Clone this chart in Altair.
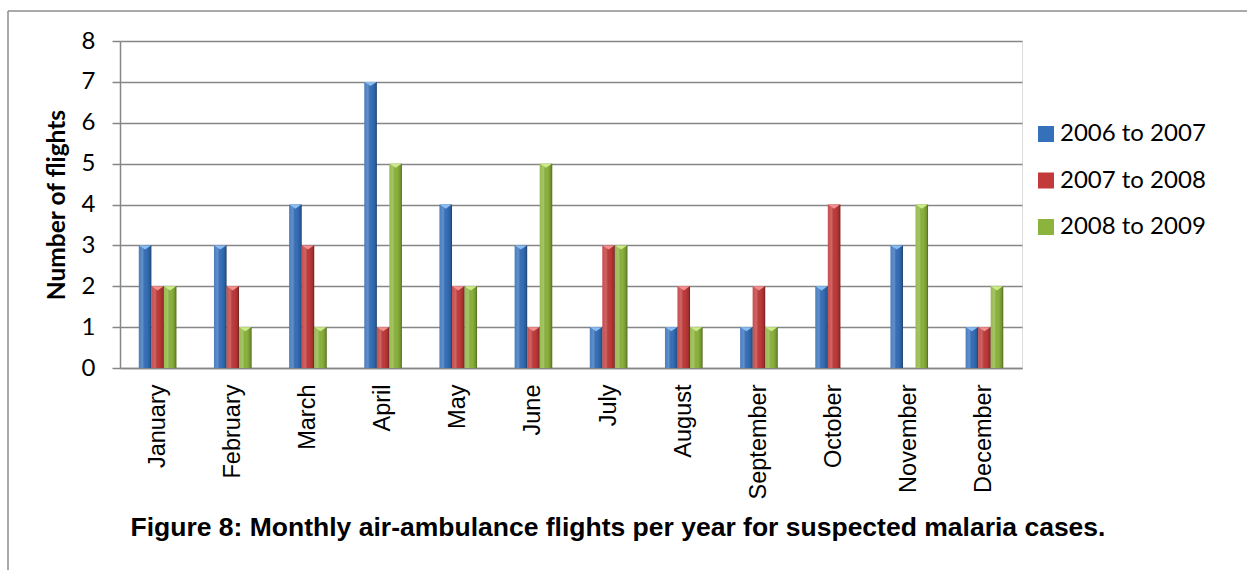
import altair as alt
import pandas as pd

months = ["January", "February", "March", "April", "May", "June", "July",
          "August", "September", "October", "November", "December"]
series = ["2006 to 2007", "2007 to 2008", "2008 to 2009"]
s1 = [3, 3, 4, 7, 4, 3, 1, 1, 1, 2, 3, 1]
s2 = [2, 2, 3, 1, 2, 1, 3, 2, 2, 4, 0, 1]
s3 = [2, 1, 1, 5, 2, 5, 3, 1, 1, 0, 4, 2]
colors = ["#3570ba", "#c23a3a", "#8cb43c"]
light = ["#8cbdf0", "#f09090", "#cde98a"]
caption = "Figure 8: Monthly air-ambulance flights per year for suspected malaria cases."

rows = []
for i, m in enumerate(months):
    for s, vals in zip(series, [s1, s2, s3]):
        rows.append({"month": m, "series": s, "value": vals[i]})
df = pd.DataFrame(rows)

GRID = "#868686"

x = alt.X("month:N", sort=months,
          scale=alt.Scale(paddingInner=0.5, paddingOuter=0.25),
          axis=alt.Axis(title=None, labelAngle=270, labelFont="Liberation Sans",
                        labelFontSize=23.5, labelColor="black", ticks=False,
                        domainColor=GRID, domainWidth=1.5, labelPadding=16,
                        grid=False, labelBaseline="middle", labelAlign="right"))
xo = alt.XOffset("series:N", sort=series,
                 scale=alt.Scale(paddingInner=0, paddingOuter=0))
y = alt.Y("value:Q", scale=alt.Scale(domain=[0, 8]),
          axis=alt.Axis(values=list(range(9)), title="Number of flights",
                        titleFont="Lato", titleFontSize=24.5, titleFontWeight="bold",
                        titleColor="black", titlePadding=12,
                        labelFont="Lato", labelFontSize=24, labelColor="black",
                        labelPadding=17, tickSize=8, tickColor=GRID, tickWidth=1.5,
                        domainColor=GRID, domainWidth=1.5,
                        gridColor=GRID, gridWidth=1.5))

base = alt.Chart(df)

bars = base.mark_bar().encode(
    x=x, xOffset=xo, y=y,
    color=alt.Color("series:N", sort=series,
                    scale=alt.Scale(domain=series, range=colors),
                    legend=alt.Legend(title=None, orient="none", legendX=914, legendY=81,
                                      symbolType="square", symbolSize=256,
                                      symbolStrokeWidth=0, labelFont="Lato",
                                      labelFontSize=24, labelColor="black",
                                      labelOffset=2, rowPadding=22.5, padding=0)),
)

shine = base.mark_bar(color=alt.Gradient(
    gradient="linear", x1=0, x2=1, y1=0, y2=0,
    stops=[alt.GradientStop(offset=0, color="rgba(255,255,255,0.10)"),
           alt.GradientStop(offset=0.3, color="rgba(255,255,255,0.22)"),
           alt.GradientStop(offset=0.6, color="rgba(0,0,0,0.0)"),
           alt.GradientStop(offset=0.88, color="rgba(0,0,0,0.18)"),
           alt.GradientStop(offset=1, color="rgba(0,0,0,0.45)")])).encode(
    x=x, xOffset=xo, y=y)

tops = base.transform_filter("datum.value > 0").mark_point(
    shape="M-1,0L1,0L0,0.7Z", filled=True, size=144, opacity=1, strokeWidth=0
).encode(
    x=x, xOffset=xo, y=y,
    color=alt.Color("series:N", sort=series,
                    scale=alt.Scale(domain=series, range=light), legend=None),
)

one = alt.Data(values=[{"k": 1}])
border_top = alt.Chart(one).mark_rule(color="#8c8c8c", strokeWidth=1.5).encode(
    x=alt.value(-112), x2=alt.value(1127), y=alt.value(-30))
border_left = alt.Chart(one).mark_rule(color="#8c8c8c", strokeWidth=1.5).encode(
    x=alt.value(-112), y=alt.value(-30), y2=alt.value(529))

chart = alt.layer(bars, shine, tops, border_top, border_left).resolve_scale(
    color="independent"
).properties(
    width=902, height=327,
    title=alt.TitleParams(caption, orient="bottom", anchor="middle", frame="group",
                          font="Liberation Sans", fontSize=26.5, fontWeight="bold",
                          color="black", offset=-56, dx=47),
    autosize=alt.AutoSizeParams(type="none"),
    padding={"left": 120, "top": 41, "right": 225, "bottom": 202},
).configure_view(stroke=None).configure(background="white")

chart.save("out.html", embed_options={"renderer": "svg", "actions": False})
